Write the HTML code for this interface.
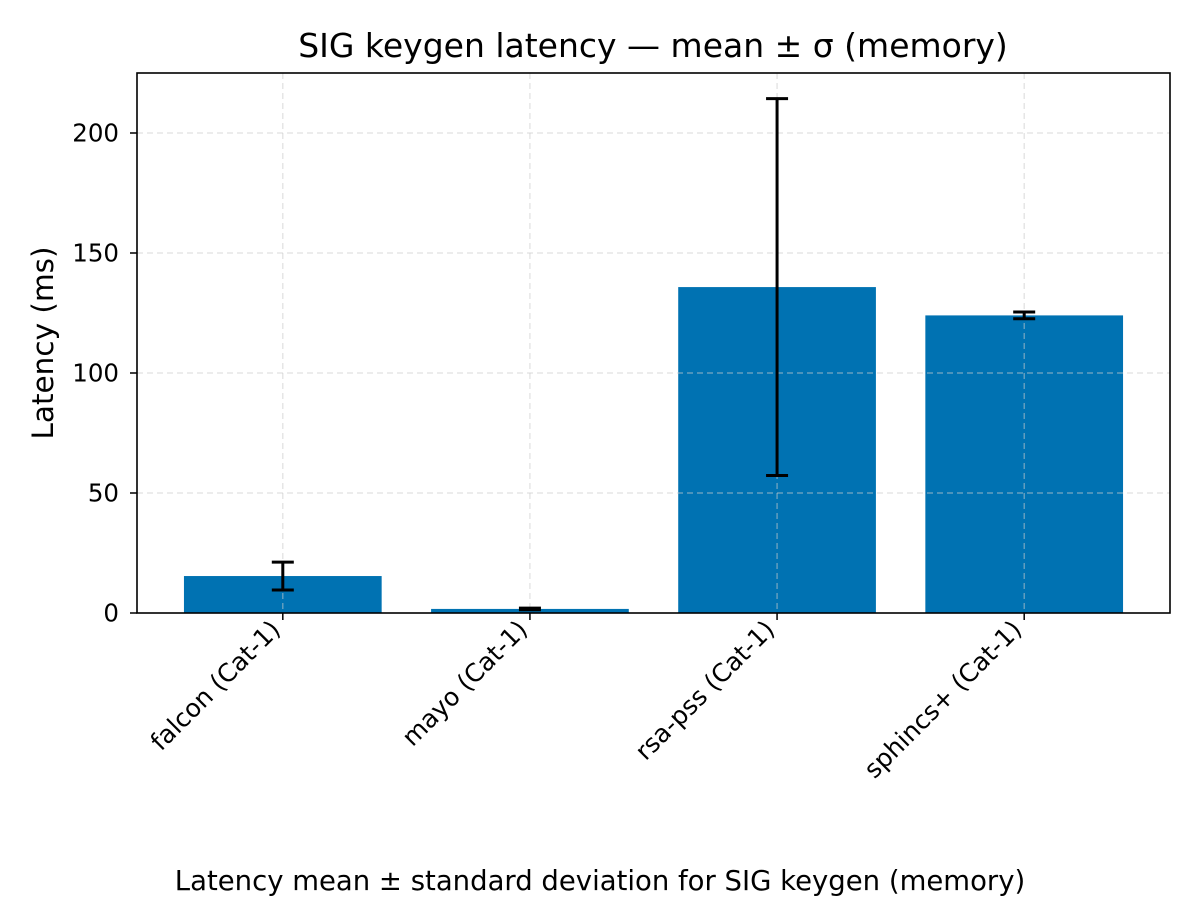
<!DOCTYPE html>
<html><head><meta charset="utf-8"><style>
body{margin:0;background:#fff}
svg{display:block;font-family:"DejaVu Sans","Liberation Sans",sans-serif}
</style></head><body>
<svg id="chart" width="1200" height="900" xmlns="http://www.w3.org/2000/svg">
<rect width="1200" height="900" fill="#fff"/>
<text x="653" y="57" font-size="33" text-anchor="middle">SIG keygen latency — mean ± σ (memory)</text>
<text transform="translate(53,343) rotate(-90)" font-size="29.5" text-anchor="middle">Latency (ms)</text>
<text x="600" y="890" font-size="27.5" text-anchor="middle">Latency mean ± standard deviation for SIG keygen (memory)</text>
<g id="bars"></g><g id="grid"></g><g id="errs"></g><g id="axes"></g>
</svg>
<script>
const categories=["falcon (Cat-1)","mayo (Cat-1)","rsa-pss (Cat-1)","sphincs+ (Cat-1)"];
const means=[15.4,1.7,135.8,124.0];
const stds=[5.8,0.35,78.5,1.4];
const yTicks=[0,50,100,150,200];
const NS="http://www.w3.org/2000/svg";
const L=137,R=1170,T=73,B=613;
const xMin=-0.59,xMax=3.59,yMin=0,yMax=225;
const X=v=>L+(v-xMin)/(xMax-xMin)*(R-L);
const Y=v=>B-(v-yMin)/(yMax-yMin)*(B-T);
function mk(p,tag,a){const e=document.createElementNS(NS,tag);for(const k in a)e.setAttribute(k,a[k]);document.getElementById(p).appendChild(e);return e;}
const bw=X(0.4)-X(-0.4);
categories.forEach((c,i)=>{
  const b=mk('bars','rect',{x:X(i)-bw/2,y:Y(means[i]),width:bw,height:B-Y(means[i]),fill:'#0072b2'});
  
  
  const g=mk('grid','line',{x1:X(i),x2:X(i),y1:T,y2:B,stroke:'#ccc','stroke-dasharray':'6,4','stroke-width':1.2,opacity:0.6});
  
  
  const lo=Y(means[i]-stds[i]),hi=Y(means[i]+stds[i]);
  const e=mk('errs','path',{d:`M${X(i)},${lo}V${hi}M${X(i)-11},${lo}H${X(i)+11}M${X(i)-11},${hi}H${X(i)+11}`,stroke:'#000','stroke-width':3,fill:'none'});
  
  
  const t=mk('axes','line',{x1:X(i),x2:X(i),y1:B,y2:B+7,stroke:'#000','stroke-width':1.5});
  
  
  const lb=mk('axes','text',{transform:`translate(${X(i)-1},${B+18}) rotate(-45)`,'font-size':25,'text-anchor':'end'});
  lb.textContent=c;
  
  
});
yTicks.forEach(v=>{
  if(v>0){const g=mk('grid','line',{x1:L,x2:R,y1:Y(v),y2:Y(v),stroke:'#ccc','stroke-dasharray':'6,4','stroke-width':1.2,opacity:0.6});
  
  }
  const t=mk('axes','line',{x1:L-7,x2:L,y1:Y(v),y2:Y(v),stroke:'#000','stroke-width':1.5});
  
  
  const lb=mk('axes','text',{x:L-18,y:Y(v)+8.5,'font-size':24.5,'text-anchor':'end'});
  lb.textContent=v;
  
  
});
const f=mk('axes','rect',{x:L,y:T,width:R-L,height:B-T,fill:'none',stroke:'#000','stroke-width':1.6});


</script>
</body></html>
